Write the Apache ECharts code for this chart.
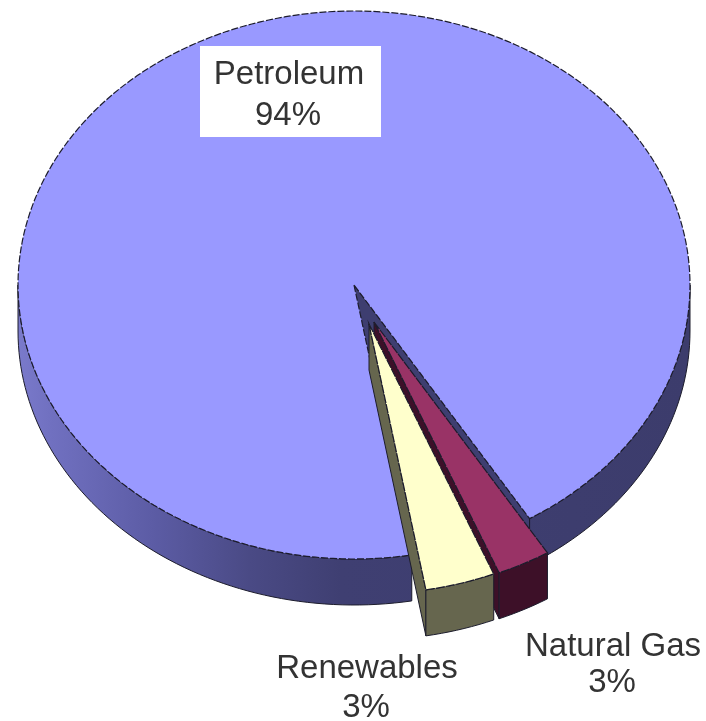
<!DOCTYPE html>
<html>
<head>
<meta charset="utf-8">
<style>
  html, body { margin: 0; padding: 0; background: #fff; }
  #main { width: 706px; height: 721px; }
  /* the source is a soft, upscaled image */
  #main canvas { filter: blur(0.7px); }
</style>
<script src="https://cdn.jsdelivr.net/npm/echarts@6/dist/echarts.min.js"></script>
</head>
<body>
<div id="main"></div>
<script>
// values (the two small slices both print as 3%)
const sliceNames = ['Petroleum', 'Natural Gas', 'Renewables']
const sliceShares = [94, 2.6, 3.4]

// layout of the tilted disc
const center = [354, 285]
const radiusX = 336
const radiusY = 274
const depth = 46
const startDeg = 170.1
const explode = [[0, 0], [20, 37], [15, 39]]
const sliceScale = [1, 0.988, 0.985]
const namePos = [[289, 75], [613, 647], [367, 669]]
const percentPos = [[288, 116], [612, 683], [366, 708]]

const topColors = ['#9999ff', '#993366', '#ffffcc']
const sideColors = ['#3e3e70', '#3d1028', '#66664e']
const edge = '#1c1c2c'
const labelFont = '33px "Liberation Sans", Arial, sans-serif'

const total = sliceShares.reduce((a, b) => a + b, 0)
const toRad = Math.PI / 180

function pt(deg, off, k, drop) {
  const t = deg * toRad
  return [
    center[0] + off[0] + k * radiusX * Math.sin(t),
    center[1] + off[1] + drop - k * radiusY * Math.cos(t)
  ]
}

function arc(from, to, off, k, drop) {
  const pts = []
  const steps = Math.max(2, Math.ceil(Math.abs(to - from) / 1.5))
  for (let i = 0; i <= steps; i++) {
    pts.push(pt(from + (to - from) * i / steps, off, k, drop))
  }
  return pts
}

// the rim shades from light on the left to navy on the right
const rimFill = new echarts.graphic.LinearGradient(center[0] - radiusX, 0, center[0] + radiusX, 0, [
  { offset: 0, color: '#7a7acb' },
  { offset: 0.05, color: '#7070c0' },
  { offset: 0.2, color: '#5c5ca5' },
  { offset: 0.345, color: '#4a4a85' },
  { offset: 0.48, color: '#3f3f72' },
  { offset: 1, color: '#3c3c6c' }
], true)

function rim(from, to, off, k, fill) {
  return {
    type: 'polygon',
    shape: { points: arc(from, to, off, k, 0).concat(arc(to, from, off, k, depth)) },
    style: { fill: fill, stroke: edge, lineWidth: 1 }
  }
}

function labelText(text, pos) {
  return {
    type: 'text',
    style: {
      text: text,
      x: pos[0],
      y: pos[1],
      align: 'center',
      verticalAlign: 'middle',
      font: labelFont,
      fill: '#333'
    }
  }
}

function renderSlice(params, api) {
  const i = params.dataIndex
  let from = startDeg
  for (let j = 0; j < i; j++) from += sliceShares[j] / total * 360
  const to = from + api.value(0) / total * 360
  const off = explode[i]
  const k = sliceScale[i]
  const apex = [center[0] + off[0], center[1] + off[1]]
  const apexLow = [apex[0], apex[1] + depth]
  const children = []

  if (i === 0) {
    // visible front rim on both sides of the gap, and the cut face on the right of it
    const gapRight = to - 360
    children.push(rim(from, 270, off, k, rimFill))
    children.push(rim(90, gapRight, off, k, rimFill))
    const outer = pt(gapRight, off, k, 0)
    children.push({
      type: 'polygon',
      shape: { points: [apex, outer, pt(gapRight, off, k, depth), apexLow] },
      style: { fill: sideColors[0], stroke: edge, lineWidth: 1 }
    })
  } else {
    const outerEnd = pt(to, off, k, 0)
    children.push({
      type: 'polygon',
      shape: { points: [apex, outerEnd, pt(to, off, k, depth), apexLow] },
      style: { fill: sideColors[i], stroke: edge, lineWidth: 1 }
    })
    children.push(rim(from, to, off, k, sideColors[i]))
  }

  children.push({
    type: 'polygon',
    shape: { points: [apex].concat(arc(from, to, off, k, 0)) },
    style: { fill: topColors[i], stroke: edge, lineWidth: 1.2, lineDash: i === 0 ? [7, 2] : [9, 1] }
  })

  if (i === 0) {
    children.push({
      type: 'rect',
      shape: { x: 200, y: 46, width: 181, height: 91 },
      style: { fill: '#fff' }
    })
  }
  children.push(labelText(sliceNames[i], namePos[i]))
  children.push(labelText(Math.round(api.value(0)) + '%', percentPos[i]))
  return { type: 'group', children: children }
}

const chart = echarts.init(document.getElementById('main'))
chart.setOption({
  animation: false,
  backgroundColor: '#fff',
  series: [{
    type: 'custom',
    coordinateSystem: 'none',
    renderItem: renderSlice,
    silent: true,
    data: sliceNames.map((n, i) => ({ name: n, value: [sliceShares[i]] }))
  }]
})
</script>
</body>
</html>
